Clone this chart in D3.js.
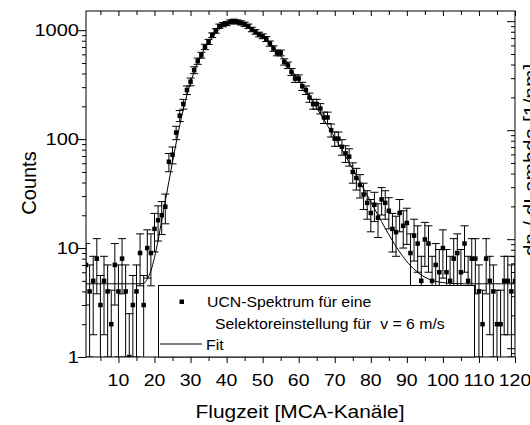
<!DOCTYPE html>
<html><head><meta charset="utf-8">
<script src="https://cdn.jsdelivr.net/npm/d3@7"></script>
<style>
body{margin:0;background:#fff;}
svg{display:block;font-family:"Liberation Sans",Arial,sans-serif;}
text{white-space:pre;}
</style></head><body>
<svg id="chart" width="530" height="425"></svg>
<script>
// ---------- data ----------
const channels = [1,2,3,4,5,6,7,8,9,10,11,12,13,14,15,16,17,18,19,20,
 21,22,23,24,25,26,27,28,29,30,31,32,33,34,35,36,37,38,39,40,
 41,42,43,44,45,46,47,48,49,50,51,52,53,54,55,56,57,58,59,60,
 61,62,63,64,65,66,67,68,69,70,71,72,73,74,75,76,77,78,79,80,
 81,82,83,84,85,86,87,88,89,90,91,92,93,94,95,96,97,98,99,100,
 101,102,103,104,105,106,107,108,109,110,111,112,113,114,115,116,117,118,119,120];
const counts = [7,4,5,8,3,5,4,2,7,4,8,4,1,3,4,9,3,10,9,15,
 18,20,24,62,72,115,164,210,282,336,430,520,590,703,781,900,985,1088,1125,1152,
 1191,1210,1190,1167,1135,1088,1015,965,913,880,830,754,679,619,619,512,477,414,360,360,
 306,282,241,210,210,191,158,158,121,101,101,85,74,69,50,44,38,31,26,21,
 25,19,28,26,22,15,14,21,16,17,9,13,11,5,12,11,5,7,6,10,
 6,5,8,9,6,11,5,8,8,4,2,8,5,4,2,2,5,5,4,5];
const errors = [4.0,3.0,3.4,4.2,2.6,3.4,3.0,2.1,4.0,3.0,4.2,3.0,1.5,2.6,3.0,4.5,2.6,4.7,4.5,5.8,
 6.4,6.7,7.3,11.8,12.7,16.1,19.2,21.7,25.2,27.5,31.1,34.2,36.4,39.8,41.9,45.0,47.1,49.5,50.3,50.9,
 51.8,52.2,51.7,51.2,50.5,49.5,47.8,46.6,45.3,44.5,43.2,41.2,39.1,37.3,37.3,33.9,32.8,30.5,28.5,28.5,
 26.2,25.2,23.3,21.7,21.7,20.7,18.9,18.9,16.5,15.1,15.1,13.8,12.9,12.5,10.6,9.9,9.2,8.4,7.6,6.9,
 7.5,6.5,7.9,7.6,7.0,5.8,5.6,6.9,6.0,6.2,4.5,5.4,5.0,3.4,5.2,5.0,3.4,4.0,3.7,4.7,
 3.7,3.4,4.2,4.5,3.7,5.0,3.4,4.2,4.2,3.0,2.1,4.2,3.4,3.0,2.1,2.1,3.4,3.4,3.0,3.4];
const fitValues = [4.7,4.7,4.7,4.7,4.7,4.7,4.7,4.7,4.7,4.7,4.7,4.7,4.7,4.7,4.7,4.7,4.75,5.2,6.2,8.2,
 11.8,18,27,41,62,92,134,188,255,330,415,505,595,685,775,860,940,1020,1085,1140,
 1180,1200,1195,1175,1145,1100,1045,990,935,880,830,765,700,640,585,530,480,430,388,348,
 310,277,246,218,193,171,151,133,117,103,91,80,70,61,53,46.5,40.5,35,30.5,26.5,
 23,20,17.5,15.2,13.3,11.7,10.3,9.2,8.3,7.5,6.9,6.4,6.0,5.65,5.4,5.2,5.05,4.95,4.87,4.82,
 4.78,4.75,4.73,4.72,4.7,4.7,4.7,4.7,4.7,4.7,4.7,4.7,4.7,4.7,4.7,4.7,4.7,4.7,4.7,4.7];
const xTickValues = [10,20,30,40,50,60,70,80,90,100,110,120];
const xTickLabels = ["10","20","30","40","50","60","70","80","90","100","110","120"];
const xMinorTicks = [5,15,25,35,45,55,65,75,85,95,105,115];
const yTickValues = [1,10,100,1000];
const yTickLabels = ["1","10","100","1000"];
const y2Decades = [0.01,0.1,1,10];
const xTitle = "Flugzeit [MCA-Kanäle]";
const yTitle = "Counts";
const y2Title = "dn / dLambda [1/nm]";
const legendLabels = ["UCN-Spektrum für eine", "Selektoreinstellung für  v = 6 m/s", "Fit"];

// ---------- layout ----------
const L = 86, R = 515, T = 11, B = 357;
const svg = d3.select("#chart");
const x = d3.scaleLinear().domain([1, 120]).range([L, R]);
const y = d3.scaleLog().domain([1, 1500]).range([B, T]);
const y2 = d3.scaleLog().domain([0.0083, 12.4]).range([B, T]);

svg.append("rect").attr("width", 530).attr("height", 425).attr("fill", "#fff");
svg.append("clipPath").attr("id", "clip").append("rect")
  .attr("x", L).attr("y", T).attr("width", R - L).attr("height", B - T);

function minorLog(domain) {
  const out = [];
  const lo = Math.floor(Math.log10(domain[0])), hi = Math.ceil(Math.log10(domain[1]));
  for (let p = lo; p <= hi; p++) for (let m = 2; m <= 9; m++) {
    const v = m * Math.pow(10, p);
    if (v >= domain[0] && v <= domain[1]) out.push(v);
  }
  return out;
}
function styleAxis(g) {
  g.select(".domain").remove();
  g.selectAll("line").attr("stroke", "#000").attr("stroke-width", 1);
  g.selectAll("text").remove();
}
function sText(g, px, py, str, size, anchor, sx) {
  return g.append("text").attr("transform", `translate(${px},${py}) scale(${sx},1)`)
    .attr("text-anchor", anchor).attr("font-size", size).attr("fill", "#000").text(str);
}

// axes ticks
const axes = svg.append("g");
axes.append("g").attr("transform", `translate(${L},0)`)
  .call(d3.axisLeft(y).tickValues(yTickValues).tickSize(8)).call(styleAxis);
axes.append("g").attr("transform", `translate(${L},0)`)
  .call(d3.axisLeft(y).tickValues(minorLog(y.domain())).tickSize(4)).call(styleAxis);
axes.append("g").attr("transform", `translate(0,${B})`)
  .call(d3.axisBottom(x).tickValues(xTickValues).tickSize(6)).call(styleAxis);
axes.append("g").attr("transform", `translate(0,${B})`)
  .call(d3.axisBottom(x).tickValues(xMinorTicks).tickSize(4)).call(styleAxis);
axes.append("g").attr("transform", `translate(0,${T})`)
  .call(d3.axisTop(x).tickValues(xTickValues).tickSize(-5)).call(styleAxis);
axes.append("g").attr("transform", `translate(0,${T})`)
  .call(d3.axisTop(x).tickValues(xMinorTicks).tickSize(-4)).call(styleAxis);
axes.append("g").attr("transform", `translate(${R},0)`)
  .call(d3.axisRight(y2).tickValues(y2Decades).tickSize(-8)).call(styleAxis);
axes.append("g").attr("transform", `translate(${R},0)`)
  .call(d3.axisRight(y2).tickValues(minorLog(y2.domain())).tickSize(-4)).call(styleAxis);

// tick labels
const labels = svg.append("g");
yTickValues.forEach((v, i) => sText(labels, 79, y(v) + 6, yTickLabels[i], 17, "end", 1.18));
xTickValues.forEach((v, i) => sText(labels, x(v), 386, xTickLabels[i], 16.5, "middle", 1.18));

// titles
labels.append("text").attr("transform", `translate(36,183) rotate(-90)`)
  .attr("text-anchor", "middle").attr("font-size", 20).text(yTitle);
sText(labels, 300, 418, xTitle, 18.5, "middle", 1.13);
labels.append("text").attr("transform", `translate(538,160) rotate(-90)`)
  .attr("text-anchor", "middle").attr("font-size", 21).text(y2Title);

// data
const plot = svg.append("g").attr("clip-path", "url(#clip)");
const pts = channels.map((c, i) => ({ c, v: counts[i], e: errors[i], f: fitValues[i] }));

plot.append("path").datum(pts)
  .attr("fill", "none").attr("stroke", "#000").attr("stroke-width", 1)
  .attr("d", d3.line().x(d => x(d.c)).y(d => y(d.f)).curve(d3.curveMonotoneX));

const eb = plot.append("g").attr("stroke", "#000").attr("stroke-width", 1);
pts.forEach(d => {
  const hi = y(d.v + d.e);
  const lowV = d.v - d.e;
  const lo = lowV > 0 ? y(lowV) : B + 5;
  eb.append("line").attr("x1", x(d.c)).attr("x2", x(d.c)).attr("y1", hi).attr("y2", lo);
  eb.append("line").attr("x1", x(d.c) - 4).attr("x2", x(d.c) + 4).attr("y1", hi).attr("y2", hi);
  if (lowV > 0) eb.append("line").attr("x1", x(d.c) - 4).attr("x2", x(d.c) + 4).attr("y1", lo).attr("y2", lo);
});
plot.append("g").selectAll("rect").data(pts).join("rect")
  .attr("x", d => x(d.c) - 2.25).attr("y", d => y(d.v) - 2.25)
  .attr("width", 4.5).attr("height", 4.5).attr("fill", "#000");

// frame
svg.append("rect").attr("x", L).attr("y", T).attr("width", R - L).attr("height", B - T)
  .attr("fill", "none").attr("stroke", "#000").attr("stroke-width", 1);

// legend
const lg = svg.append("g");
lg.append("rect").attr("x", 158.5).attr("y", 285.5).attr("width", 316).attr("height", 71.5)
  .attr("fill", "#fff").attr("stroke", "#000").attr("stroke-width", 1);
lg.append("rect").attr("x", 179.5).attr("y", 299.5).attr("width", 4.5).attr("height", 4.5).attr("fill", "#000");
sText(lg, 207, 307, legendLabels[0], 14, "start", 1.13);
sText(lg, 215, 328.5, legendLabels[1], 14, "start", 1.13);
lg.append("line").attr("x1", 160).attr("x2", 202).attr("y1", 344).attr("y2", 344)
  .attr("stroke", "#000").attr("stroke-width", 1);
sText(lg, 206, 350, legendLabels[2], 14, "start", 1.13);
</script>
</body></html>
